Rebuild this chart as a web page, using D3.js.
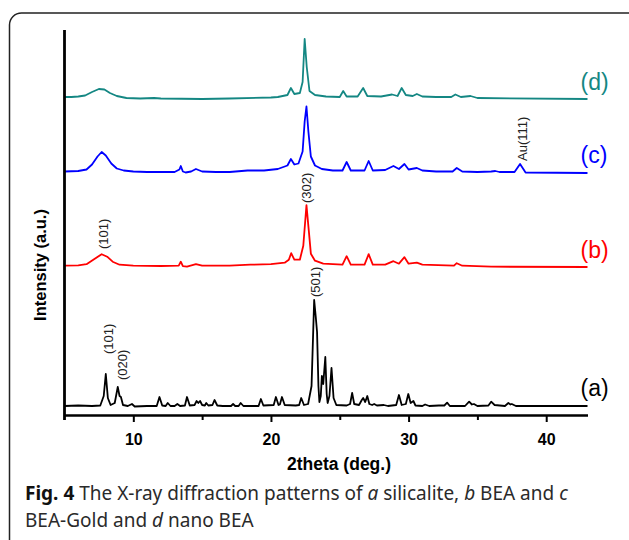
<!DOCTYPE html>
<html>
  <head>
    <meta charset="utf-8" />
    <title>XRD patterns</title>
    <style>
      body { margin: 0; background: #fff; }
      .axis path, .axis line { stroke: #000; }
      .axis text { font-family: "Liberation Sans", Arial, sans-serif; font-weight: bold; font-size: 16px; fill: #000; }
      .trace { fill: none; stroke-width: 1.8; stroke-linejoin: round; }
      .peak { font-family: "Liberation Sans", Arial, sans-serif; font-size: 13px; fill: #222; }
      .series-label { font-family: "Liberation Sans", Arial, sans-serif; font-size: 23px; }
      .caption { font-family: "Noto Sans", "Open Sans", sans-serif; font-size: 19px; fill: #2a2a2a; }
    </style>
  </head>
  <body>
    <div id="chart"></div>

    <script src="https://d3js.org/d3.v7.min.js"></script>
    <script>
      // 2theta (deg.) / intensity (a.u., above each pattern's own baseline)
      const silicalite = [
        [5, 0], [6, 0.5], [7, 0], [7.6, 0.5], [7.85, 10], [8.0, 32], [8.15, 8], [8.35, 1],
        [8.65, 3], [8.87, 19], [9.0, 10], [9.1, 9], [9.25, 1], [9.6, 0], [9.9, 2], [10.1, -0.5],
        [11, 0], [11.7, 0], [11.9, 9], [12.1, 0.5], [12.35, 0], [12.5, 3], [12.7, 0], [13.0, 0],
        [13.2, 2], [13.4, 0], [13.75, 0.5], [13.9, 9], [14.1, 0.5], [14.45, 1], [14.6, 5],
        [14.72, 3], [14.85, 5], [15.0, 1], [15.2, 0.5], [15.3, 3], [15.45, 0.5], [15.75, 1],
        [15.9, 6], [16.1, 0.5], [16.5, 0], [17.1, 0], [17.25, 2], [17.4, 0], [17.65, 0],
        [17.8, 3], [18, 0], [19.1, 0], [19.27, 7], [19.45, 0.5], [20.2, 1], [20.36, 9],
        [20.55, 1], [20.65, 1.5], [20.8, 9], [21.0, 1], [21.8, 0.5], [22.05, 1], [22.2, 8],
        [22.4, 1], [22.7, 2], [22.95, 20], [23.14, 106], [23.25, 90], [23.35, 74], [23.45, 20],
        [23.52, 4], [23.62, 10], [23.7, 30], [23.8, 22], [23.95, 49], [24.05, 12], [24.12, 3],
        [24.25, 10], [24.4, 38], [24.55, 8], [24.75, 1], [25.5, 0.5], [25.75, 2], [25.9, 13],
        [26.05, 2], [26.4, 1], [26.6, 6], [26.7, 8], [26.85, 4], [27.0, 10], [27.15, 2],
        [27.35, 1], [27.5, 2], [27.7, 0.5], [28.2, 1], [28.5, 0], [29.1, 1], [29.3, 11],
        [29.5, 1], [29.8, 2], [29.98, 12], [30.15, 3], [30.35, 5], [30.5, 0.5], [31.0, 0],
        [31.2, 1.5], [31.5, 0], [32.2, 0.5], [32.6, 0.5], [32.8, 3.3], [33.0, 0], [34.1, 0],
        [34.4, 4.3], [34.6, 1.5], [34.75, 2], [35, 0], [35.8, 0.5], [36.0, 4.3], [36.25, 1],
        [37.0, 0], [37.25, 3], [37.4, 1.5], [37.5, 2], [37.8, 0], [43, 0]
      ];

      const bea = [
        [5, 0], [6, 0.3], [6.6, 1.5], [7.2, 7], [7.7, 11.5], [8.1, 9], [8.5, 4], [9, 1],
        [10, 0], [12, -0.3], [13.3, 0], [13.45, 4], [13.6, -0.5], [13.9, -1], [14.55, 1.5],
        [15, 0], [17, 0], [18.5, 1], [20, 1.5], [21, 3], [21.3, 6], [21.47, 12.5], [21.7, 6],
        [22.1, 6], [22.35, 20], [22.58, 60.5], [22.75, 35], [22.9, 12], [23.2, 5], [23.8, 2],
        [25.2, 1], [25.5, 9.5], [25.8, 1], [26.8, 1], [27.1, 11.5], [27.4, 1], [28.3, 1],
        [28.9, 4.5], [29.3, 2], [29.7, 8.5], [30, 2], [30.6, 3], [31, 1], [33.3, 0],
        [33.5, 2.5], [33.9, 0], [36, -1], [43, -1.3]
      ];

      const beaGold = [
        [5, 0], [6, 0.5], [6.6, 2], [7, 7], [7.4, 15], [7.7, 19.5], [8, 16], [8.4, 8],
        [8.8, 3], [9.3, 1], [10, 0], [11, -0.5], [13, -0.5], [13.35, 2], [13.45, 5.5],
        [13.6, 0], [13.8, -1], [14.2, 0], [14.55, 2.5], [15, 0], [16, -0.5], [17, -0.5],
        [18.3, 1], [19.5, 1], [20.5, 2.5], [21.2, 6], [21.45, 12.5], [21.7, 7], [22, 8],
        [22.3, 20], [22.45, 50], [22.58, 65], [22.72, 40], [22.9, 15], [23.2, 6], [23.7, 2.5],
        [24.5, 1], [25.2, 1], [25.5, 9.5], [25.8, 1], [26.8, 1], [27.1, 10.5], [27.4, 1],
        [28.3, 1.5], [28.9, 5.5], [29.3, 2.5], [29.7, 7.5], [30, 2], [30.6, 3.5], [31, 1],
        [32, 0], [33.2, 0], [33.5, 3.5], [33.9, 0], [35, -0.5], [36, 0], [36.3, 0.5],
        [36.6, -0.5], [37.7, -0.5], [38.1, 7.5], [38.5, -1], [43, -1.5]
      ];

      const nanoBea = [
        [5, 0], [5.5, 0], [6, 0.5], [6.5, 1.5], [7, 5], [7.5, 8], [7.9, 7.5], [8.3, 4],
        [8.8, 1], [9.5, -1], [10.5, -1.5], [11.5, -1], [12, -1.5], [15, -2], [17, -1.5],
        [20, -0.5], [20.5, 0], [21.2, 2], [21.45, 9], [21.7, 3], [22.1, 4], [22.3, 15],
        [22.45, 58], [22.6, 30], [22.8, 6], [23.2, 2], [24, 0.5], [25, 0], [25.25, 6],
        [25.5, 0.5], [26.3, 0.5], [26.7, 9], [27, 1], [28, 0.5], [28.8, 2.5], [29.2, 1],
        [29.5, 9], [29.8, 2], [30.3, 1], [30.6, 3], [31, 0.5], [32, 0], [33.1, 0], [33.4, 2.5],
        [33.8, 0], [34.5, 1], [35, -1], [43, -2]
      ];

      const patterns = [silicalite, bea, beaGold, nanoBea];
      const seriesLabels = ["(a)", "(b)", "(c)", "(d)"];
      // vertical stacking offset of each pattern (a.u.)
      const offsets = [9, 149.3, 243.5, 318];
      const seriesLabelY = [27, 165, 260, 333];
      const colors = ["#000000", "#ff0000", "#0000ff", "#148783"];

      const xTicks = [10, 20, 30, 40];
      const xMinorTicks = [15, 25, 35];

      // peak (hkl) annotations: text, 2theta, intensity where the label starts
      const peakTexts = ["(101)", "(020)", "(501)", "(101)", "(302)", "Au(111)"];
      const peakX = [8.17, 9.2, 23.2, 7.8, 22.6, 38.3];
      const peakY = [61, 35, 118, 166, 212, 254];

      const W = 629, H = 540;
      const margin = { top: 30, right: 41.5, bottom: 125, left: 64.5 };

      const svg = d3.select("#chart").append("svg")
        .attr("width", W).attr("height", H);

      // rounded figure frame
      svg.append("rect")
        .attr("x", 9.5).attr("y", 13)
        .attr("width", 700).attr("height", 600)
        .attr("rx", 12)
        .attr("fill", "none")
        .attr("stroke", "#222")
        .attr("stroke-width", 1.5);

      const x = d3.scaleLinear().domain([5, 43]).range([margin.left, W - margin.right]);
      const y = d3.scaleLinear().domain([0, 385]).range([H - margin.bottom, margin.top]);

      // traces
      patterns.forEach(function (pts, i) {
        const line = d3.line()
          .x(d => x(d[0]))
          .y(d => y(d[1] + offsets[i]));
        svg.append("path")
          .datum(pts)
          .attr("class", "trace")
          .attr("stroke", colors[i])
          .attr("d", line);
      });

      // x axis
      const xAxis = svg.append("g")
        .attr("class", "axis")
        .attr("transform", "translate(0," + y(0) + ")")
        .call(d3.axisBottom(x).tickValues(xTicks).tickFormat(d3.format("d"))
          .tickSize(7).tickSizeOuter(0).tickPadding(12));
      xAxis.select(".domain").attr("stroke-width", 2.6);
      xAxis.selectAll(".tick line").attr("stroke-width", 2);

      svg.append("g")
        .attr("class", "axis")
        .attr("transform", "translate(0," + y(0) + ")")
        .call(d3.axisBottom(x).tickValues(xMinorTicks).tickFormat("").tickSize(5).tickSizeOuter(0))
        .call(g => g.select(".domain").remove())
        .selectAll(".tick line").attr("stroke-width", 2);

      // y axis (no ticks)
      svg.append("line")
        .attr("x1", x(5)).attr("x2", x(5))
        .attr("y1", y(385)).attr("y2", y(0) + 5)
        .attr("stroke", "#000")
        .attr("stroke-width", 2.8);

      // axis titles
      svg.append("text")
        .attr("x", 339).attr("y", 470)
        .attr("text-anchor", "middle")
        .style("font-family", "'Liberation Sans', Arial, sans-serif")
        .style("font-weight", "bold")
        .style("font-size", "17.5px")
        .text("2theta (deg.)");

      svg.append("text")
        .attr("transform", "translate(46,265) rotate(-90)")
        .attr("text-anchor", "middle")
        .style("font-family", "'Liberation Sans', Arial, sans-serif")
        .style("font-weight", "bold")
        .style("font-size", "16.5px")
        .text("Intensity (a.u.)");

      // series labels
      svg.selectAll(".series-label")
        .data(seriesLabels)
        .enter()
        .append("text")
        .attr("class", "series-label")
        .attr("x", x(42.5))
        .attr("y", (d, i) => y(seriesLabelY[i]))
        .attr("dy", "0.35em")
        .attr("fill", (d, i) => colors[i])
        .text(d => d);

      // peak labels (rotated)
      svg.selectAll(".peak")
        .data(peakTexts)
        .enter()
        .append("text")
        .attr("class", "peak")
        .attr("transform", (d, i) => "translate(" + x(peakX[i]) + "," + y(peakY[i]) + ") rotate(-90)")
        .attr("dy", "0.35em")
        .text(d => d);

      // caption
      const cap1 = svg.append("text").attr("class", "caption").attr("x", 25).attr("y", 500);
      cap1.append("tspan").style("font-weight", "bold").attr("fill", "#111").text("Fig. 4");
      cap1.append("tspan").text(" The X-ray diffraction patterns of ");
      cap1.append("tspan").style("font-style", "italic").text("a");
      cap1.append("tspan").text(" silicalite, ");
      cap1.append("tspan").style("font-style", "italic").text("b");
      cap1.append("tspan").text(" BEA and ");
      cap1.append("tspan").style("font-style", "italic").text("c");

      const cap2 = svg.append("text").attr("class", "caption").attr("x", 25).attr("y", 527);
      cap2.append("tspan").text("BEA-Gold and ");
      cap2.append("tspan").style("font-style", "italic").text("d");
      cap2.append("tspan").text(" nano BEA");
    </script>
  </body>
</html>
